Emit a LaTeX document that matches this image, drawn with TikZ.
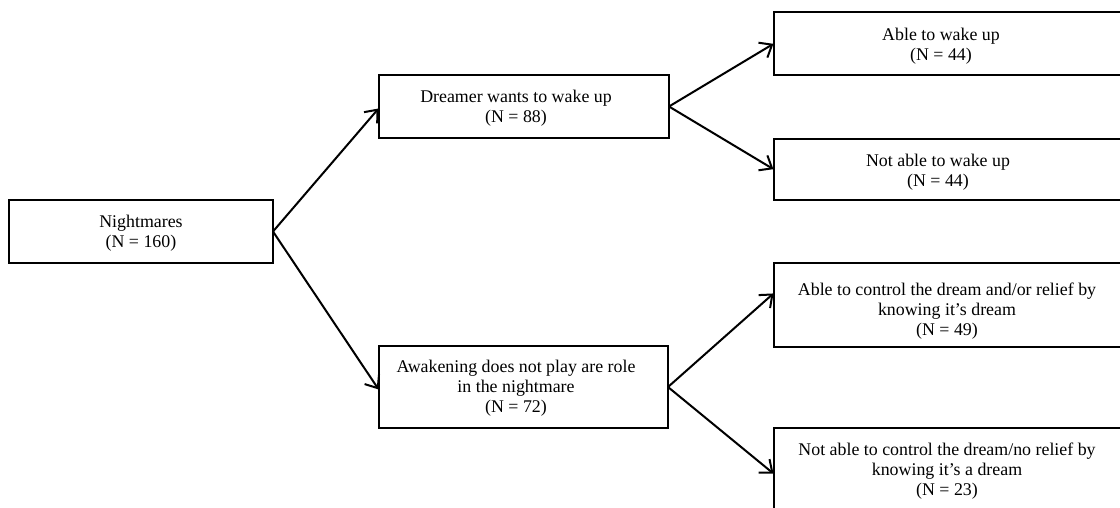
\documentclass[tikz,border=0pt]{standalone}
\usepackage{fontspec}
\setmainfont{Liberation Serif}
\usetikzlibrary{arrows.meta,calc}
\tikzset{
  boxnode/.style={draw=black, line width=1.1pt, inner sep=0pt, outer sep=0pt, fill=none},
  txt/.style={align=center, inner sep=0pt, font=\fontsize{13.4pt}{15pt}\selectfont},
  conn/.style={line width=1.5pt, -{Straight Barb[length=8pt,width=13pt,line width=1.5pt]}, shorten >=0.5pt}
}
\begin{document}
\begin{tikzpicture}[x=0.75pt,y=-0.75pt]
\useasboundingbox[fill=white] (0,0) rectangle (1120,507);
\clip (0,0) rectangle (1120,507);
% boxes
\node[boxnode, minimum width=198pt, minimum height=47.25pt] (b1) at (141,231.5) {};
\node[boxnode, minimum width=217.5pt, minimum height=47.25pt] (b2) at (524,106.5) {};
\node[boxnode, minimum width=267pt, minimum height=47.25pt] (b3) at (952,43.5) {};
\node[boxnode, minimum width=267pt, minimum height=45.75pt] (b4) at (952,169.5) {};
\node[boxnode, minimum width=216.75pt, minimum height=61.5pt] (b5) at (523.5,387) {};
\node[boxnode, minimum width=267pt, minimum height=63pt] (b6) at (952,305) {};
\node[boxnode, minimum width=267pt, minimum height=69pt] (b7) at (952,474) {};
% texts
\node[txt] (t1) at (141,233) {Nightmares\\(N = 160)};
\node[txt] (t2) at (516,108) {Dreamer wants to wake up\\(N = 88)};
\node[txt] (t3) at (941,46) {Able to wake up\\(N = 44)};
\node[txt] (t4) at (938,172) {Not able to wake up\\(N = 44)};
\node[txt] (t5) at (516,388.5) {Awakening does not play are role\\in the nightmare\\(N = 72)};
\node[txt] (t6) at (947,311.5) {Able to control the dream and/or relief by\\knowing it’s dream\\(N = 49)};
\node[txt] (t7) at (947,471.5) {Not able to control the dream/no relief by\\knowing it’s a dream\\(N = 23)};
% connectors
\draw[conn] (b1.east) -- ($(b2.west)+(0,1.5)$);
\draw[conn] (b1.east) -- ($(b5.west)+(0,3)$);
\draw[conn] (b2.east) -- (b3.west);
\draw[conn] (b2.east) -- (b4.west);
\draw[conn] (b5.east) -- ($(b6.west)+(0,-12)$);
\draw[conn] (b5.east) -- (b7.west);
\end{tikzpicture}
\end{document}
